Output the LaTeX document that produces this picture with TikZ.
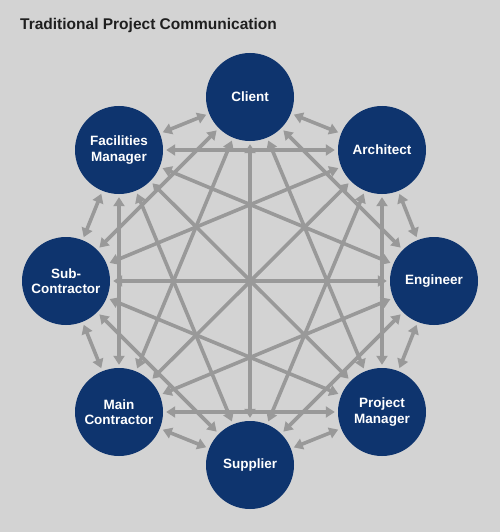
\documentclass[tikz,border=0pt]{standalone}
\usepackage{fontspec}
\setmainfont{Liberation Sans}
\usetikzlibrary{arrows.meta}
\definecolor{bgc}{HTML}{D3D3D3}
\definecolor{navy}{HTML}{0E346E}
\definecolor{linec}{HTML}{999999}
\tikzset{
  party/.style={circle, fill=navy, minimum size=88pt, inner sep=0pt, text=white,
    font=\fontsize{13.5}{15.5}\selectfont\bfseries, align=center},
  link/.style={draw=linec, line width=3.6pt, shorten <=3pt, shorten >=3pt,
    {Triangle[width=11pt,length=9pt]}-{Triangle[width=11pt,length=9pt]}}
}
\begin{document}
\begin{tikzpicture}[x=1pt,y=-1pt]
\fill[bgc] (0,0) rectangle (500,532);
\useasboundingbox (0,0) rectangle (500,532);
\node[anchor=base west, inner sep=0pt, font=\fontsize{15.5}{18}\selectfont\bfseries, text=black!88] (title) at (20,29.5) {Traditional Project Communication};
\node[party] (cl) at (250,97) {Client};
\node[party] (ar) at (382,150) {Architect};
\node[party] (en) at (434,281) {Engineer};
\node[party] (pm) at (382,412) {Project\\Manager};
\node[party] (su) at (250,465) {Supplier};
\node[party] (mc) at (119,412) {Main\\Contractor};
\node[party] (sc) at (66,281) {Sub-\\Contractor};
\node[party] (fm) at (119,150) {Facilities\\Manager};
\foreach \a/\b in {cl/ar,cl/en,cl/pm,cl/su,cl/mc,cl/sc,cl/fm,
  ar/en,ar/pm,ar/su,ar/mc,ar/sc,ar/fm,
  en/pm,en/su,en/mc,en/sc,en/fm,
  pm/su,pm/mc,pm/sc,pm/fm,
  su/mc,su/sc,su/fm,
  mc/sc,mc/fm,
  sc/fm}
  \draw[link] (\a) -- (\b);
\end{tikzpicture}
\end{document}
